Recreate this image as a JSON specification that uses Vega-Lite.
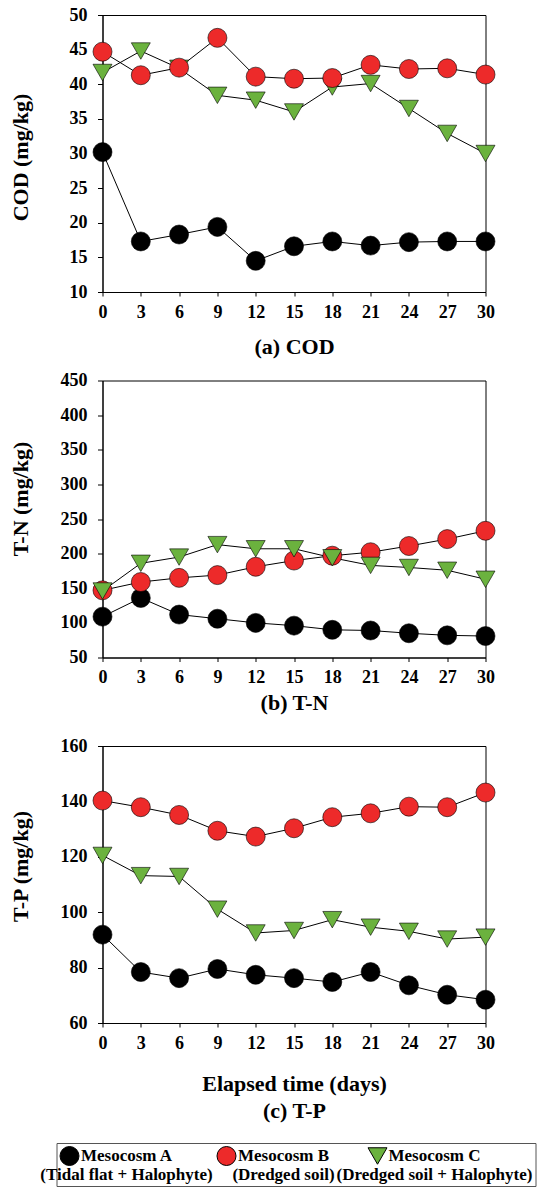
{
  "$schema": "https://vega.github.io/schema/vega-lite/v6.json",
  "padding": {"left": 7.5, "top": 5, "right": 0, "bottom": 0},
  "bounds": "flush",
  "spacing": 88.5,
  "datasets": {
    "cod": [
      {"day": 0, "series": "A", "value": 30.2}, {"day": 3, "series": "A", "value": 17.3}, {"day": 6, "series": "A", "value": 18.3}, {"day": 9, "series": "A", "value": 19.4}, {"day": 12, "series": "A", "value": 14.5}, {"day": 15, "series": "A", "value": 16.6}, {"day": 18, "series": "A", "value": 17.3}, {"day": 21, "series": "A", "value": 16.7}, {"day": 24, "series": "A", "value": 17.2}, {"day": 27, "series": "A", "value": 17.3}, {"day": 30, "series": "A", "value": 17.3},
      {"day": 0, "series": "C", "value": 41.7}, {"day": 3, "series": "C", "value": 44.8}, {"day": 6, "series": "C", "value": 42.3}, {"day": 9, "series": "C", "value": 38.4}, {"day": 12, "series": "C", "value": 37.7}, {"day": 15, "series": "C", "value": 36.0}, {"day": 18, "series": "C", "value": 39.6}, {"day": 21, "series": "C", "value": 40.1}, {"day": 24, "series": "C", "value": 36.5}, {"day": 27, "series": "C", "value": 32.9}, {"day": 30, "series": "C", "value": 30.0},
      {"day": 0, "series": "B", "value": 44.7}, {"day": 3, "series": "B", "value": 41.3}, {"day": 6, "series": "B", "value": 42.4}, {"day": 9, "series": "B", "value": 46.7}, {"day": 12, "series": "B", "value": 41.1}, {"day": 15, "series": "B", "value": 40.8}, {"day": 18, "series": "B", "value": 40.9}, {"day": 21, "series": "B", "value": 42.8}, {"day": 24, "series": "B", "value": 42.2}, {"day": 27, "series": "B", "value": 42.3}, {"day": 30, "series": "B", "value": 41.4}
    ],
    "tn": [
      {"day": 0, "series": "A", "value": 109}, {"day": 3, "series": "A", "value": 136}, {"day": 6, "series": "A", "value": 112}, {"day": 9, "series": "A", "value": 106}, {"day": 12, "series": "A", "value": 100}, {"day": 15, "series": "A", "value": 96}, {"day": 18, "series": "A", "value": 90}, {"day": 21, "series": "A", "value": 89}, {"day": 24, "series": "A", "value": 85}, {"day": 27, "series": "A", "value": 82}, {"day": 30, "series": "A", "value": 81},
      {"day": 0, "series": "B", "value": 147}, {"day": 3, "series": "B", "value": 159}, {"day": 6, "series": "B", "value": 165}, {"day": 9, "series": "B", "value": 169}, {"day": 12, "series": "B", "value": 181}, {"day": 15, "series": "B", "value": 190}, {"day": 18, "series": "B", "value": 197}, {"day": 21, "series": "B", "value": 202}, {"day": 24, "series": "B", "value": 211}, {"day": 27, "series": "B", "value": 221}, {"day": 30, "series": "B", "value": 233},
      {"day": 0, "series": "C", "value": 146}, {"day": 3, "series": "C", "value": 186}, {"day": 6, "series": "C", "value": 195}, {"day": 9, "series": "C", "value": 213}, {"day": 12, "series": "C", "value": 207}, {"day": 15, "series": "C", "value": 207}, {"day": 18, "series": "C", "value": 194}, {"day": 21, "series": "C", "value": 183}, {"day": 24, "series": "C", "value": 180}, {"day": 27, "series": "C", "value": 176}, {"day": 30, "series": "C", "value": 163}
    ],
    "tp": [
      {"day": 0, "series": "A", "value": 91.9}, {"day": 3, "series": "A", "value": 78.4}, {"day": 6, "series": "A", "value": 76.2}, {"day": 9, "series": "A", "value": 79.5}, {"day": 12, "series": "A", "value": 77.4}, {"day": 15, "series": "A", "value": 76.2}, {"day": 18, "series": "A", "value": 74.8}, {"day": 21, "series": "A", "value": 78.4}, {"day": 24, "series": "A", "value": 73.6}, {"day": 27, "series": "A", "value": 70.2}, {"day": 30, "series": "A", "value": 68.4},
      {"day": 0, "series": "C", "value": 120.5}, {"day": 3, "series": "C", "value": 113.2}, {"day": 6, "series": "C", "value": 112.9}, {"day": 9, "series": "C", "value": 101.1}, {"day": 12, "series": "C", "value": 92.5}, {"day": 15, "series": "C", "value": 93.4}, {"day": 18, "series": "C", "value": 97.3}, {"day": 21, "series": "C", "value": 94.6}, {"day": 24, "series": "C", "value": 93.1}, {"day": 27, "series": "C", "value": 90.3}, {"day": 30, "series": "C", "value": 91.0},
      {"day": 0, "series": "B", "value": 140.3}, {"day": 3, "series": "B", "value": 137.9}, {"day": 6, "series": "B", "value": 135.1}, {"day": 9, "series": "B", "value": 129.4}, {"day": 12, "series": "B", "value": 127.3}, {"day": 15, "series": "B", "value": 130.3}, {"day": 18, "series": "B", "value": 134.3}, {"day": 21, "series": "B", "value": 135.7}, {"day": 24, "series": "B", "value": 138.1}, {"day": 27, "series": "B", "value": 137.9}, {"day": 30, "series": "B", "value": 143.2}
    ]
  },
  "config": {
    "view": {"stroke": "black", "strokeWidth": 1},
    "axis": {
      "labelFont": "Liberation Serif", "labelFontWeight": "bold", "labelFontSize": 18, "labelColor": "black",
      "titleFont": "Liberation Serif", "titleFontWeight": "bold", "titleFontSize": 22, "titleColor": "black",
      "domainColor": "black", "tickColor": "black", "grid": false, "labelOverlap": false, "labelFlush": false, "tickCount": 20
    },
    "axisX": {"tickSize": 4, "labelPadding": 16, "labelBaseline": "middle", "titleBaseline": "middle"},
    "axisY": {"tickSize": 5, "labelPadding": 10.5, "titleBaseline": "middle", "titleX": -82.5}
  },
  "vconcat": [
    {
      "width": 383, "height": 277,
      "data": {"name": "cod"},
      "layer": [
        {"mark": {"type": "line", "color": "black", "strokeWidth": 1},
         "encoding": {
           "x": {"field": "day", "type": "quantitative", "scale": {"domain": [0, 30], "nice": false}, "axis": {"values": [0, 3, 6, 9, 12, 15, 18, 21, 24, 27, 30], "tickCount": 20, "title": "(a) COD", "titleY": 54}},
           "y": {"field": "value", "type": "quantitative", "scale": {"domain": [10, 50], "nice": false, "zero": false}, "axis": {"values": [10, 15, 20, 25, 30, 35, 40, 45, 50], "tickCount": 20, "title": "COD (mg/kg)", "titleY": 142}},
           "detail": {"field": "series"}
         }},
        {"mark": {"type": "point", "filled": true, "opacity": 1, "stroke": "black", "strokeWidth": 0.6},
         "encoding": {
           "x": {"field": "day", "type": "quantitative"},
           "y": {"field": "value", "type": "quantitative"},
           "fill": {"field": "series", "type": "nominal", "scale": {"domain": ["A", "B", "C"], "range": ["#000000", "#ED2A2A", "#6BB23E"]}},
           "shape": {"field": "series", "type": "nominal", "scale": {"domain": ["A", "B", "C"], "range": ["circle", "circle", "triangle-down"]}},
           "size": {"field": "series", "type": "nominal", "scale": {"domain": ["A", "B", "C"], "range": [361, 361, 529]}}
         }}
      ]
    },
    {
      "width": 383, "height": 277,
      "data": {"name": "tn"},
      "layer": [
        {"mark": {"type": "line", "color": "black", "strokeWidth": 1},
         "encoding": {
           "x": {"field": "day", "type": "quantitative", "scale": {"domain": [0, 30], "nice": false}, "axis": {"values": [0, 3, 6, 9, 12, 15, 18, 21, 24, 27, 30], "tickCount": 20, "title": "(b) T-N", "titleY": 45}},
           "y": {"field": "value", "type": "quantitative", "scale": {"domain": [50, 450], "nice": false, "zero": false}, "axis": {"values": [50, 100, 150, 200, 250, 300, 350, 400, 450], "tickCount": 20, "title": "T-N (mg/kg)", "titleY": 118}},
           "detail": {"field": "series"}
         }},
        {"mark": {"type": "point", "filled": true, "opacity": 1, "stroke": "black", "strokeWidth": 0.6},
         "encoding": {
           "x": {"field": "day", "type": "quantitative"},
           "y": {"field": "value", "type": "quantitative"},
           "fill": {"field": "series", "type": "nominal", "scale": {"domain": ["A", "B", "C"], "range": ["#000000", "#ED2A2A", "#6BB23E"]}},
           "shape": {"field": "series", "type": "nominal", "scale": {"domain": ["A", "B", "C"], "range": ["circle", "circle", "triangle-down"]}},
           "size": {"field": "series", "type": "nominal", "scale": {"domain": ["A", "B", "C"], "range": [361, 361, 529]}}
         }}
      ]
    },
    {
      "width": 383, "height": 277,
      "data": {"name": "tp"},
      "layer": [
        {"mark": {"type": "line", "color": "black", "strokeWidth": 1},
         "encoding": {
           "x": {"field": "day", "type": "quantitative", "scale": {"domain": [0, 30], "nice": false}, "axis": {"values": [0, 3, 6, 9, 12, 15, 18, 21, 24, 27, 30], "tickCount": 20, "title": ["Elapsed time (days)", "(c) T-P"], "titleLineHeight": 27, "titleY": 60}},
           "y": {"field": "value", "type": "quantitative", "scale": {"domain": [60, 160], "nice": false, "zero": false}, "axis": {"values": [60, 80, 100, 120, 140, 160], "tickCount": 20, "title": "T-P (mg/kg)", "titleY": 120}},
           "detail": {"field": "series"}
         }},
        {"mark": {"type": "point", "filled": true, "opacity": 1, "stroke": "black", "strokeWidth": 0.6},
         "encoding": {
           "x": {"field": "day", "type": "quantitative"},
           "y": {"field": "value", "type": "quantitative"},
           "fill": {"field": "series", "type": "nominal", "scale": {"domain": ["A", "B", "C"], "range": ["#000000", "#ED2A2A", "#6BB23E"]},
             "legend": {
               "orient": "none", "legendX": -46, "legendY": 1128, "direction": "horizontal", "columns": 3, "title": null,
               "symbolStrokeColor": "black", "symbolStrokeWidth": 1, "symbolOpacity": 1,
               "labelFont": "Liberation Serif", "labelFontSize": 17, "labelFontWeight": "bold", "labelColor": "black",
               "labelAlign": "center", "labelBaseline": "middle", "labelLineHeight": 23, "labelLimit": 400, "labelOffset": 47,
               "columnPadding": 1, "padding": 3, "strokeColor": "#555555",
               "labelExpr": "datum.value == 'A' ? ['\u00a0\u00a0\u00a0\u00a0\u00a0\u00a0\u00a0Mesocosm A', '(Tidal flat + Halophyte)'] : datum.value == 'B' ? ['\u00a0\u00a0\u00a0\u00a0\u00a0Mesocosm B', '\u00a0\u00a0\u00a0(Dredged soil)\u00a0\u00a0\u00a0\u00a0\u00a0\u00a0\u00a0\u00a0\u00a0\u00a0\u00a0'] : ['\u00a0\u00a0\u00a0\u00a0\u00a0\u00a0\u00a0\u00a0\u00a0\u00a0\u00a0\u00a0Mesocosm C', '(Dredged soil + Halophyte)']"
             }},
           "shape": {"field": "series", "type": "nominal", "scale": {"domain": ["A", "B", "C"], "range": ["circle", "circle", "triangle-down"]}},
           "size": {"field": "series", "type": "nominal", "scale": {"domain": ["A", "B", "C"], "range": [361, 361, 529]}}
         }}
      ]
    }
  ]
}
